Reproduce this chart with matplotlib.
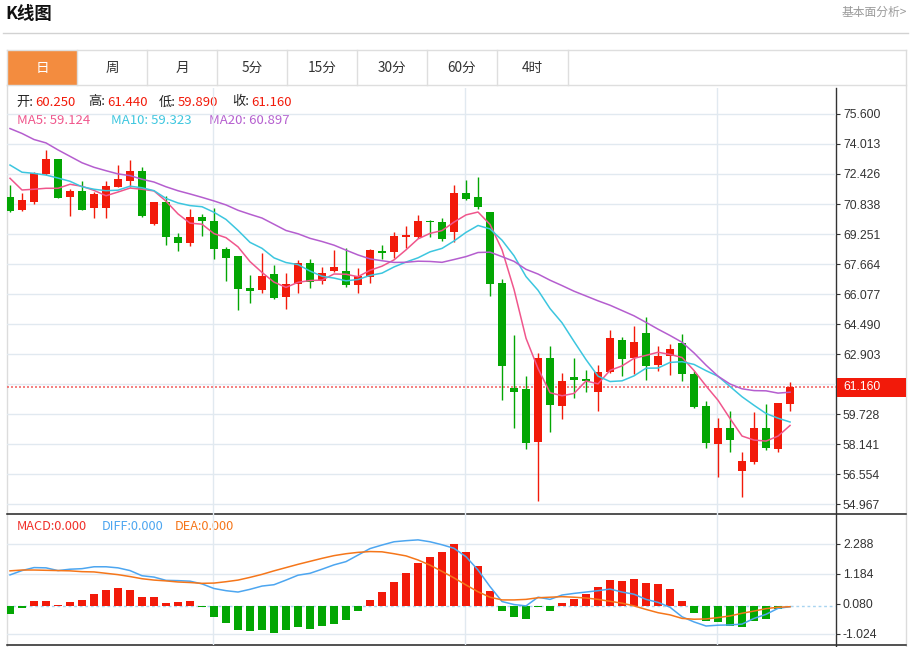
import numpy as np
import pandas as pd
import matplotlib
matplotlib.use('Agg')
import matplotlib.pyplot as plt
from matplotlib.patches import Rectangle
from matplotlib.ticker import FixedLocator, FixedFormatter

# ---------------- data ----------------
opens = [71.19, 70.51, 70.94, 72.43, 73.20, 71.19, 71.53, 70.64, 70.64, 71.74,
         72.06, 72.58, 69.77, 70.93, 69.11, 68.78, 70.17, 69.96, 68.46, 68.09,
         66.40, 66.31, 67.12, 65.94, 66.59, 67.70, 66.75, 67.31, 67.29, 66.55,
         66.99, 68.35, 68.32, 69.11, 69.11, 69.96, 69.90, 69.37, 71.40, 71.19,
         70.40, 66.64, 61.12, 61.04, 58.27, 62.71, 60.17, 61.70, 61.58, 60.92,
         61.94, 63.64, 62.71, 64.01, 62.32, 62.81, 63.50, 61.86, 60.15, 58.13,
         58.99, 56.73, 57.21, 58.99, 57.88, 60.25]
highs = [71.84, 71.44, 72.53, 73.70, 73.24, 71.62, 72.04, 71.46, 72.06, 72.92,
         73.17, 72.78, 70.95, 71.26, 69.29, 70.56, 70.31, 70.61, 68.55, 68.10,
         67.08, 68.23, 67.60, 67.17, 67.88, 67.95, 67.49, 68.39, 68.51, 67.44,
         68.44, 68.67, 69.34, 69.69, 70.24, 70.00, 70.11, 71.84, 72.11, 72.28,
         70.42, 66.89, 63.91, 61.76, 62.94, 63.34, 61.88, 62.68, 62.06, 62.32,
         64.17, 63.82, 64.39, 64.88, 63.33, 63.43, 63.95, 61.99, 60.43, 59.50,
         59.89, 57.70, 59.84, 60.26, 60.32, 61.44]
lows = [70.43, 70.47, 70.84, 72.36, 71.15, 70.20, 70.50, 70.11, 70.11, 71.72,
        71.75, 70.17, 69.73, 68.69, 68.37, 68.62, 69.16, 67.91, 66.78, 65.23,
        65.59, 66.13, 65.81, 65.30, 66.15, 66.38, 66.61, 67.26, 66.45, 66.11,
        66.64, 67.91, 67.96, 68.50, 69.02, 69.11, 68.88, 68.81, 71.05, 70.57,
        65.99, 60.47, 58.97, 57.89, 55.13, 58.78, 59.45, 60.59, 60.88, 59.89,
        61.92, 61.76, 61.83, 61.53, 62.00, 61.81, 61.49, 60.05, 57.92, 56.41,
        57.74, 55.32, 57.07, 57.83, 57.74, 59.89]
closes = [70.47, 71.05, 72.46, 73.20, 71.17, 71.53, 70.52, 71.37, 71.79, 72.15,
          72.58, 70.20, 70.93, 69.08, 68.78, 70.14, 69.92, 68.44, 68.00, 66.36,
          66.24, 67.05, 65.88, 66.61, 67.70, 66.71, 67.17, 67.49, 66.54, 67.05,
          68.41, 68.26, 69.15, 69.20, 69.94, 69.87, 69.00, 71.40, 71.10, 70.70,
          66.59, 62.29, 60.91, 58.18, 62.71, 60.19, 61.48, 61.53, 61.48, 61.95,
          63.75, 62.66, 63.54, 62.25, 62.78, 63.17, 61.86, 60.08, 58.18, 58.99,
          58.34, 57.23, 59.01, 57.92, 60.30, 61.16]

# leading moving-average values (history before first candle)
ma5_head = [72.20, 71.58, 71.62, 71.67]
ma10_head = [72.90, 72.52, 72.46, 72.37, 72.21, 72.04, 71.75, 71.62, 71.54]
ma20_head = [74.83, 74.57, 74.25, 74.07, 73.70, 73.36, 73.02, 72.78, 72.60, 72.43,
             72.34, 72.15, 72.00, 71.75, 71.54, 71.37, 71.19, 71.00, 70.79]

macd_hist = [-0.29, -0.06, 0.18, 0.20, 0.04, 0.15, 0.23, 0.45, 0.60, 0.66,
             0.60, 0.33, 0.33, 0.12, 0.14, 0.20, -0.03, -0.39, -0.61, -0.86,
             -0.90, -0.89, -0.99, -0.86, -0.78, -0.84, -0.74, -0.64, -0.52, -0.19,
             0.22, 0.51, 0.90, 1.22, 1.58, 1.81, 1.99, 2.29, 2.01, 1.46,
             0.54, -0.16, -0.41, -0.48, -0.02, -0.16, 0.11, 0.25, 0.44, 0.69,
             0.95, 0.92, 0.99, 0.84, 0.83, 0.62, 0.19, -0.24, -0.53, -0.58,
             -0.72, -0.78, -0.53, -0.46, -0.10, 0.0]
diff_line = [1.15, 1.31, 1.42, 1.41, 1.31, 1.36, 1.38, 1.45, 1.45, 1.41,
             1.31, 1.12, 1.07, 0.95, 0.94, 0.92, 0.82, 0.65, 0.57, 0.52,
             0.62, 0.74, 0.79, 0.96, 1.14, 1.21, 1.36, 1.52, 1.64, 1.88,
             2.12, 2.25, 2.37, 2.41, 2.44, 2.37, 2.26, 2.13, 1.82, 1.33,
             0.72, 0.17, 0.06, 0.01, 0.33, 0.25, 0.41, 0.47, 0.52, 0.57,
             0.63, 0.52, 0.44, 0.25, 0.14, -0.04, -0.39, -0.58, -0.73, -0.70,
             -0.69, -0.66, -0.45, -0.30, -0.08, -0.02]
dea_line = [1.30, 1.33, 1.33, 1.32, 1.31, 1.30, 1.27, 1.26, 1.21, 1.16,
            1.09, 1.01, 0.96, 0.93, 0.89, 0.87, 0.84, 0.85, 0.90, 0.96,
            1.06, 1.17, 1.30, 1.42, 1.54, 1.65, 1.76, 1.86, 1.93, 1.98,
            2.01, 2.00, 1.93, 1.85, 1.70, 1.51, 1.28, 1.04, 0.78, 0.53,
            0.33, 0.23, 0.23, 0.25, 0.31, 0.33, 0.35, 0.33, 0.30, 0.25,
            0.18, 0.11, 0.01, -0.12, -0.24, -0.32, -0.45, -0.48, -0.47, -0.42,
            -0.36, -0.26, -0.18, -0.09, -0.04, -0.02]

price_ticks = [75.600, 74.013, 72.426, 70.838, 69.251, 67.664, 66.077, 64.490,
               62.903, 61.316, 59.728, 58.141, 56.554, 54.967]
macd_ticks = [2.288, 1.184, 0.080, -1.024]
tabs = ['日', '周', '月', '5分', '15分', '30分', '60分', '4时']
last_price = 61.16

# ---------------- derived ----------------
c = pd.Series(closes)
ma5 = c.rolling(5).mean().to_numpy()
ma10 = c.rolling(10).mean().to_numpy()
ma20 = c.rolling(20).mean().to_numpy()
ma5[:len(ma5_head)] = ma5_head
ma10[:len(ma10_head)] = ma10_head
ma20[:len(ma20_head)] = ma20_head

RED = '#f21a0a'
GREEN = '#03a603'
GRID = '#e1e9f0'
CJK = ['Noto Sans CJK SC', 'DejaVu Sans']
NUM = ['Liberation Sans', 'DejaVu Sans']

W, H = 911, 647
fig = plt.figure(figsize=(W / 100, H / 100), dpi=100)
fig.patch.set_facecolor('white')


def rect(l, t, r, b):
    return [l / W, 1 - b / H, (r - l) / W, (b - t) / H]


# background / decoration axes in pixel coordinates
bg = fig.add_axes([0, 0, 1, 1])
bg.set_xlim(0, W)
bg.set_ylim(H, 0)
bg.axis('off')

bg.text(5, 14, 'K线图', fontsize=12.5, fontweight='bold', family=CJK,
        color='#111111', va='center', ha='left')
bg.text(907, 12.5, '基本面分析>', fontsize=8.5, family=CJK, color='#9a9a9a',
        va='center', ha='right')
bg.plot([3, 908], [33, 33], color='#d2d2d2', lw=1)

# tab row
bg.add_patch(Rectangle((7, 49.5), 70, 35.5, facecolor='#f38c3f', edgecolor='none'))
bg.plot([7, 906], [49.5, 49.5], color='#dedede', lw=1)
bg.plot([7, 906], [85, 85], color='#dedede', lw=1)
for k in range(len(tabs) + 1):
    xx = 7 + 70 * k + (0.5 if k == 8 else 0)
    bg.plot([xx, xx], [49.5, 85], color='#dedede', lw=1)
for k, t in enumerate(tabs):
    bg.text(42 + 70 * k, 68, t, fontsize=9.8, family=CJK,
            color='white' if k == 0 else '#333333', ha='center', va='center')

# frame lines
bg.plot([7, 7], [85, 647], color='#dcdcdc', lw=1)
bg.plot([906, 906], [49.5, 647], color='#dcdcdc', lw=1)
bg.plot([7, 906], [514, 514], color='#222222', lw=1.1)
bg.plot([7, 906], [645, 645], color='#222222', lw=1.1)
bg.plot([836, 836], [88, 647], color='#333333', lw=1)

# OHLC text
txt_y = 102
pieces = [(16, '开:', '#222222'), (35, '%.3f' % opens[-1], RED),
          (88, '高:', '#222222'), (107, '%.3f' % highs[-1], RED),
          (159, '低:', '#222222'), (178, '%.3f' % lows[-1], RED),
          (232, '收:', '#222222'), (251, '%.3f' % closes[-1], RED)]
for xx, s, col in pieces:
    bg.text(xx, txt_y, s, fontsize=9.5, family=CJK, color=col, va='center', ha='left')

C5, C10, C20 = '#f0568c', '#3cc6df', '#b55ecf'
for xx, s, col in [(17, 'MA5: 59.124', C5), (111, 'MA10: 59.323', C10),
                   (209, 'MA20: 60.897', C20)]:
    bg.text(xx, 120, s, fontsize=9.5, family=CJK, color=col, va='center', ha='left')

CM, CD, CE = '#f0302a', '#4da6f0', '#f5761a'
for xx, s, col in [(17, 'MACD:0.000', CM), (102, 'DIFF:0.000', CD),
                   (175, 'DEA:0.000', CE)]:
    bg.text(xx, 526, s, fontsize=9.2, family=CJK, color=col, va='center', ha='left')

# ---------------- main price axes ----------------
x = np.arange(len(closes))
xlim = (-0.25, 68.83)
vgrid = [16.95, 37.95, 58.95]

ax = fig.add_axes(rect(7, 88, 836, 514))
ax.set_facecolor('none')
ax.set_xlim(*xlim)
ax.set_ylim(54.44, 76.975)
for s in ax.spines.values():
    s.set_visible(False)
ax.yaxis.tick_right()
ax.yaxis.set_major_locator(FixedLocator(price_ticks))
ax.yaxis.set_major_formatter(FixedFormatter(
    ['' if abs(t - 61.316) < 1e-6 else '%.3f' % t for t in price_ticks]))
ax.tick_params(axis='y', length=3, width=0.8, color='#333333', pad=2,
               labelsize=8.8, labelcolor='#333333')
for lab in ax.get_yticklabels():
    lab.set_family(NUM)
ax.set_xticks([])
for t in price_ticks:
    ax.axhline(t, color=GRID, lw=1, zorder=0)
for v in vgrid:
    ax.axvline(v, color=GRID, lw=1, zorder=0)

for i in x:
    o, h, l, cl = opens[i], highs[i], lows[i], closes[i]
    col = RED if cl >= o else GREEN
    ax.vlines(i, l, h, color=col, lw=1.0, zorder=2)
    ax.bar(i, max(abs(cl - o), 0.07), bottom=min(o, cl), width=0.72,
           color=col, zorder=3, linewidth=0)

ax.plot(x, ma5, color=C5, lw=1.1, zorder=4)
ax.plot(x, ma10, color=C10, lw=1.1, zorder=4)
ax.plot(x, ma20, color=C20, lw=1.1, zorder=4)
ax.axhline(last_price, color='#f36b6b', lw=1.2, ls=(0, (1.2, 1.2)), zorder=1)

# last-price label box
bg2 = fig.add_axes([0, 0, 1, 1], zorder=5)
bg2.set_xlim(0, W)
bg2.set_ylim(H, 0)
bg2.axis('off')
bg2.add_patch(Rectangle((837, 377.5), 69, 19.5, facecolor=RED, edgecolor='none'))
bg2.text(843, 387.5, '%.3f' % last_price, fontsize=8.8, family=NUM, color='white',
         va='center', ha='left')

# ---------------- MACD axes ----------------
mx = fig.add_axes(rect(7, 514, 836, 645))
mx.set_facecolor('none')
mx.set_xlim(*xlim)
mx.set_ylim(-1.429, 3.392)
for s in mx.spines.values():
    s.set_visible(False)
mx.yaxis.tick_right()
mx.set_yticks(macd_ticks)
mx.set_yticklabels(['%.3f' % t for t in macd_ticks])
mx.tick_params(axis='y', length=3, width=0.8, color='#333333', pad=2,
               labelsize=8.8, labelcolor='#333333')
for lab in mx.get_yticklabels():
    lab.set_family(NUM)
mx.set_xticks([])
for t in macd_ticks:
    if abs(t - 0.080) > 1e-6:
        mx.axhline(t, color=GRID, lw=1, zorder=0)
for v in vgrid:
    mx.axvline(v, color=GRID, lw=1, zorder=0)
mx.axhline(0, color='#a8d4f0', lw=1, ls=(0, (2, 2)), zorder=1)

hist = np.array(macd_hist)
mx.bar(x, hist, width=0.7, color=[RED if v >= 0 else GREEN for v in hist],
       linewidth=0, zorder=2)
mx.plot(x, diff_line, color=CD, lw=1.1, zorder=3)
mx.plot(x, dea_line, color=CE, lw=1.1, zorder=3)

fig.savefig('out.png', dpi=100)
